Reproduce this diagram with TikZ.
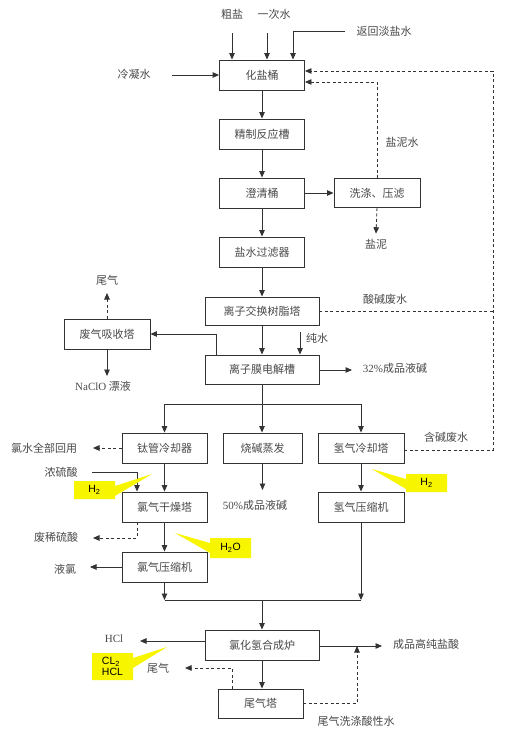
\documentclass[tikz,border=0pt]{standalone}
\usepackage{fontspec}
\setmainfont{Liberation Serif}
\newfontfamily\cjk{Noto Sans CJK SC}
\newfontfamily\tms{Liberation Serif}
\newfontfamily\ari{Liberation Sans}
\usetikzlibrary{arrows.meta,shapes.callouts}
\definecolor{lc}{HTML}{333333}
\definecolor{tc}{HTML}{4A4A4A}
\definecolor{yl}{HTML}{F8F500}
\begin{document}
\begin{tikzpicture}[x=1pt,y=-1pt,
 box/.style={draw=lc, line width=0.9pt, fill=white, inner sep=0pt, minimum height=30pt, font=\cjk\fontsize{11}{13}\selectfont, text=tc},
 lbl/.style={font=\cjk\fontsize{11}{13}\selectfont, text=tc, inner sep=0pt},
 ln/.style={draw=lc, line width=0.9pt},
 arr/.style={ln, -{Triangle[length=6.5pt,width=5.5pt]}},
 dln/.style={ln, dash pattern=on 3pt off 2.5pt},
 darr/.style={dln, -{Triangle[length=6.5pt,width=5.5pt]}},
 tag/.style={rectangle callout, fill=yl, inner sep=0pt, minimum width=41pt, minimum height=18pt, font=\ari\fontsize{10.5}{11.5}\selectfont, callout pointer width=10pt}
]
\useasboundingbox[fill=white] (0,0) rectangle (517,736);

% boxes
\node[box, minimum width=85pt] (hy) at (262,75) {化盐桶};
\node[box, minimum width=85pt] (jz) at (262,134) {精制反应槽};
\node[box, minimum width=85pt] (cq) at (262,193) {澄清桶};
\node[box, minimum width=86pt, minimum height=29pt] (xd) at (377,193) {洗涤、压滤};
\node[box, minimum width=85pt] (ys) at (262,252) {盐水过滤器};
\node[box, minimum width=114pt, minimum height=28pt] (lz) at (262,311) {离子交换树脂塔};
\node[box, minimum width=86pt] (fq) at (107,334) {废气吸收塔};
\node[box, minimum width=114pt, minimum height=29pt] (lm) at (262,369.5) {离子膜电解槽};
\node[box, minimum width=85pt] (tg) at (164.5,448) {钛管冷却器};
\node[box, minimum width=79pt] (sj) at (262.5,448) {烧碱蒸发};
\node[box, minimum width=86pt] (qq) at (361,448) {氢气冷却塔};
\node[box, minimum width=85pt] (lg) at (164.5,507) {氯气干燥塔};
\node[box, minimum width=86pt] (qy) at (361,507) {氢气压缩机};
\node[box, minimum width=85pt] (ly) at (164.5,567) {氯气压缩机};
\node[box, minimum width=114pt] (hh) at (262,645) {氯化氢合成炉};
\node[box, minimum width=85pt, minimum height=29pt] (wq) at (260.5,703.5) {尾气塔};

% labels
\node[lbl] (cy) at (232,14) {粗盐};
\node[lbl] (ycs) at (274,14) {一次水};
\node[lbl] (fh) at (384,31) {返回淡盐水};
\node[lbl] (lns) at (134,74) {冷凝水};
\node[lbl] (ynw) at (402,142) {盐泥水};
\node[lbl] (yn) at (376,244) {盐泥};
\node[lbl] (sjfs) at (385,299) {酸碱废水};
\node[lbl] (wq1) at (107,280) {尾气};
\node[lbl] (nacl) at (103,386) {{\tms NaClO} 漂液};
\node[lbl] (cs) at (317,338) {纯水};
\node[lbl] (yj32) at (395,368) {{\tms 32\%}成品液碱};
\node[lbl] (lsh) at (44,448) {氯水全部回用};
\node[lbl] (hjfs) at (446,437) {含碱废水};
\node[lbl] (nls) at (61,472) {浓硫酸};
\node[lbl] (yj50) at (255,505) {{\tms 50\%}成品液碱};
\node[lbl] (fxls) at (56,537) {废稀硫酸};
\node[lbl] (ylv) at (65,569) {液氯};
\node[lbl] (hcl) at (114,639) {{\tms HCl}};
\node[lbl] (cpys) at (426,644) {成品高纯盐酸};
\node[lbl] (wq2) at (158,668) {尾气};
\node[lbl] (wxs) at (356,721) {尾气洗涤酸性水};

% free ends
\coordinate (a1) at (232,33);
\coordinate (a2) at (267,33);
\coordinate (a3) at (345,31);
\coordinate (a3b) at (293,31);
\coordinate (a4) at (172,75);
\coordinate (r82) at (0,82);
\coordinate (rx) at (493,71);
\coordinate (a5) at (107,293);
\coordinate (a6) at (107,376);
\coordinate (a7) at (300,332);
\coordinate (a8) at (352,370);
\coordinate (sp) at (262,404);
\coordinate (a9) at (93,448);
\coordinate (a10) at (92,472);
\coordinate (x137) at (137,0);
\coordinate (a11) at (93,538);
\coordinate (a12) at (90,567);
\coordinate (a13) at (262,490);
\coordinate (mg) at (262,600);
\coordinate (a14) at (140,641);
\coordinate (a15) at (382,646);
\coordinate (a16) at (357,646);
\coordinate (a17) at (185,668);
\coordinate (x232) at (232,0);

% connectors
\draw[arr] (a1) -- (a1 |- hy.north);
\draw[arr] (a2) -- (a2 |- hy.north);
\draw[arr] (a3) -- (a3b) -- (a3b |- hy.north);
\draw[arr] (a4) -- (hy.west);
\draw[arr] (hy) -- (jz);
\draw[arr] (jz) -- (cq);
\draw[arr] (cq) -- (ys);
\draw[arr] (ys) -- (lz);
\draw[arr] (lz) -- (lm);
\draw[arr] (cq) -- (xd);
\draw[darr] (xd.south) -- ([yshift=5pt]yn.north);
\draw[darr] (xd.north) -- (xd.north |- r82) -- (hy.east |- r82);
\draw[dln] (lz.east) -- (lz.east -| rx);
\draw[darr] ([yshift=-2pt]qq.east) -| (rx) -- (hy.east |- rx);

\draw[arr] ([xshift=12pt]lm.north west) |- (fq.east);
\draw[darr] (fq.north) -- (a5);
\draw[arr] (fq.south) -- (a6);
\draw[arr] (a7) -- (a7 |- lm.north);
\draw[arr] (lm.east |- a8) -- (a8);

\draw[ln] (lm.south) -- (sp);
\draw[arr] (sp) -- (sp |- sj.north);
\draw[arr] (sp) -| (tg.north);
\draw[arr] (sp) -| (qq.north);

\draw[darr] (tg.west) -- (a9);
\draw[arr] (tg) -- (lg);
\draw[arr] (a10) -| (lg.north -| x137);
\draw[darr] (lg.south -| x137) |- (a11);
\draw[arr] (lg) -- (ly);
\draw[arr] (ly.west) -- (a12);
\draw[arr] (sj.south) -- (sj.south |- a13);
\draw[arr] (qq) -- (qy);

\draw[ln] (ly.south |- mg) -- (qy.south |- mg);
\draw[arr] (ly.south) -- (ly.south |- mg);
\draw[arr] (qy.south) -- (qy.south |- mg);
\draw[arr] (mg) -- (hh.north);

\draw[arr] (hh.west |- a14) -- (a14);
\draw[arr] (hh.east |- a15) -- (a15);
\draw[darr] (wq.east) -| (a16);
\draw[arr] (hh.south) -- (hh.south |- wq.north);
\draw[darr] (wq.north -| x232) |- (a17);

% callouts
\node[tag, callout absolute pointer={(152,474)}] (t1) at (94.5,490) {H\textsubscript{2}};
\node[tag, callout absolute pointer={(372,469)}] (t2) at (426.5,483) {H\textsubscript{2}};
\node[tag, minimum height=20pt, callout absolute pointer={(175,533)}] (t3) at (230.5,548) {H\textsubscript{2}O};
\node[tag, minimum height=27pt, align=left, callout absolute pointer={(167,647)}] (t4) at (112.5,666.5) {CL\textsubscript{2}\\HCL};
\end{tikzpicture}
\end{document}
